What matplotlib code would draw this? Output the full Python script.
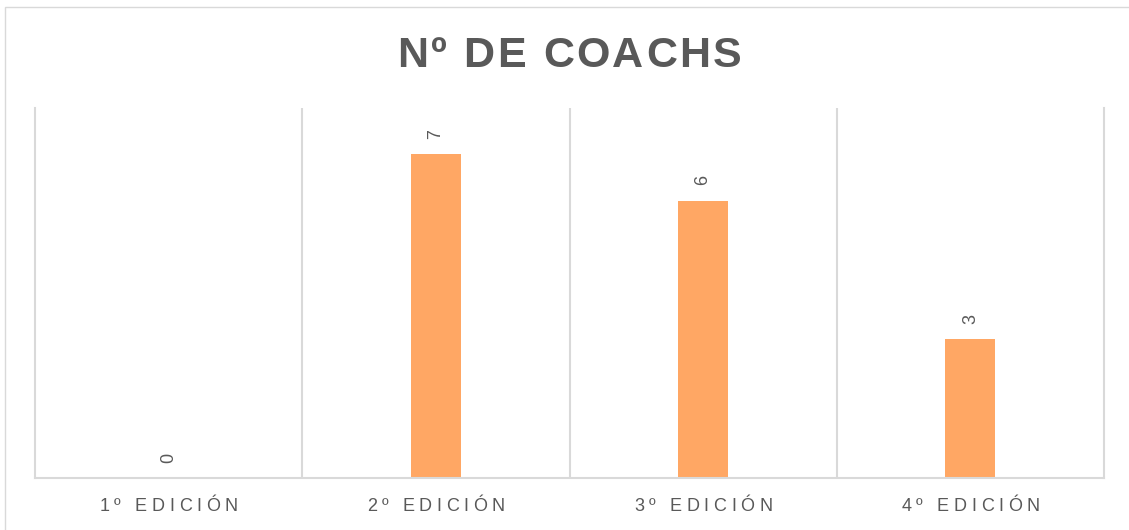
import matplotlib
matplotlib.use("Agg")
import matplotlib.pyplot as plt
from matplotlib.patches import Rectangle
from matplotlib.font_manager import FontProperties
from matplotlib.textpath import TextToPath

# data
categories = ["1º EDICIÓN", "2º EDICIÓN", "3º EDICIÓN", "4º EDICIÓN"]
coaches = [0, 7, 6, 3]
title = "Nº DE COACHS"

W, H = 1129, 530
FONT = "Liberation Sans"
GRAY = "#595959"
GRID = "#D9D9D9"
BAR = "#FFA764"

plt.rcParams["font.family"] = [FONT, "DejaVu Sans"]

fig = plt.figure(figsize=(W / 100, H / 100), dpi=100)
fig.patch.set_facecolor("white")

# outer chart frame (right/bottom edges fall outside the picture)
fig.patches.append(Rectangle((5 / W, -0.1), 1.2, 1 - 7 / H + 0.1,
                             transform=fig.transFigure, fill=False,
                             edgecolor=GRID, lw=1.0))

ax = fig.add_axes([35 / W, (H - 478) / H, (1104 - 35) / W, (478 - 108) / H])
x = list(range(len(categories)))
ax.bar(x, coaches, width=0.187, color=BAR, zorder=2)

ax.set_xlim(-0.5, len(categories) - 0.5)
ax.set_ylim(0, 8)
ax.set_xticks([])
ax.set_yticks([])
for s in ["left", "right", "bottom"]:
    ax.spines[s].set_color(GRID)
    ax.spines[s].set_linewidth(1.5)
ax.spines["top"].set_visible(False)
for b in [i + 0.5 for i in x[:-1]]:
    ax.axvline(b, color=GRID, lw=1.5, zorder=1)

for i, v in zip(x, coaches):
    ax.annotate(str(v), (i, v), xytext=(0, 11), textcoords="offset points",
                rotation=90, ha="center", va="bottom", fontsize=13,
                color=GRAY)

# letter-spaced text, drawn char by char
ttp = TextToPath()


def advance_px(ch, prop):
    w1 = ttp.get_text_width_height_descent("x" + ch + "x", prop, ismath=False)[0]
    w0 = ttp.get_text_width_height_descent("xx", prop, ismath=False)[0]
    return (w1 - w0) * fig.dpi / 72


def spaced_text(cx, baseline, s, size, spacing, **kw):
    prop = FontProperties(family=FONT, size=size,
                          weight=kw.get("fontweight", "normal"))
    advs = [advance_px(ch, prop) for ch in s]
    total = sum(advs) + spacing * (len(s) - 1)
    pos = cx - total / 2
    for ch, a in zip(s, advs):
        if ch != " ":
            fig.text((pos + a / 2) / W, 1 - baseline / H, ch, fontsize=size,
                     ha="center", va="baseline", color=GRAY, **kw)
        pos += a + spacing


spaced_text(569.5, 67, title, 31, 2.5, fontweight="bold")

for i, lab in zip(x, categories):
    px = ax.transData.transform((i, 0))[0]
    spaced_text(px, 511, lab, 13, 4.6)

fig.savefig("out.png", dpi=100, facecolor="white")
